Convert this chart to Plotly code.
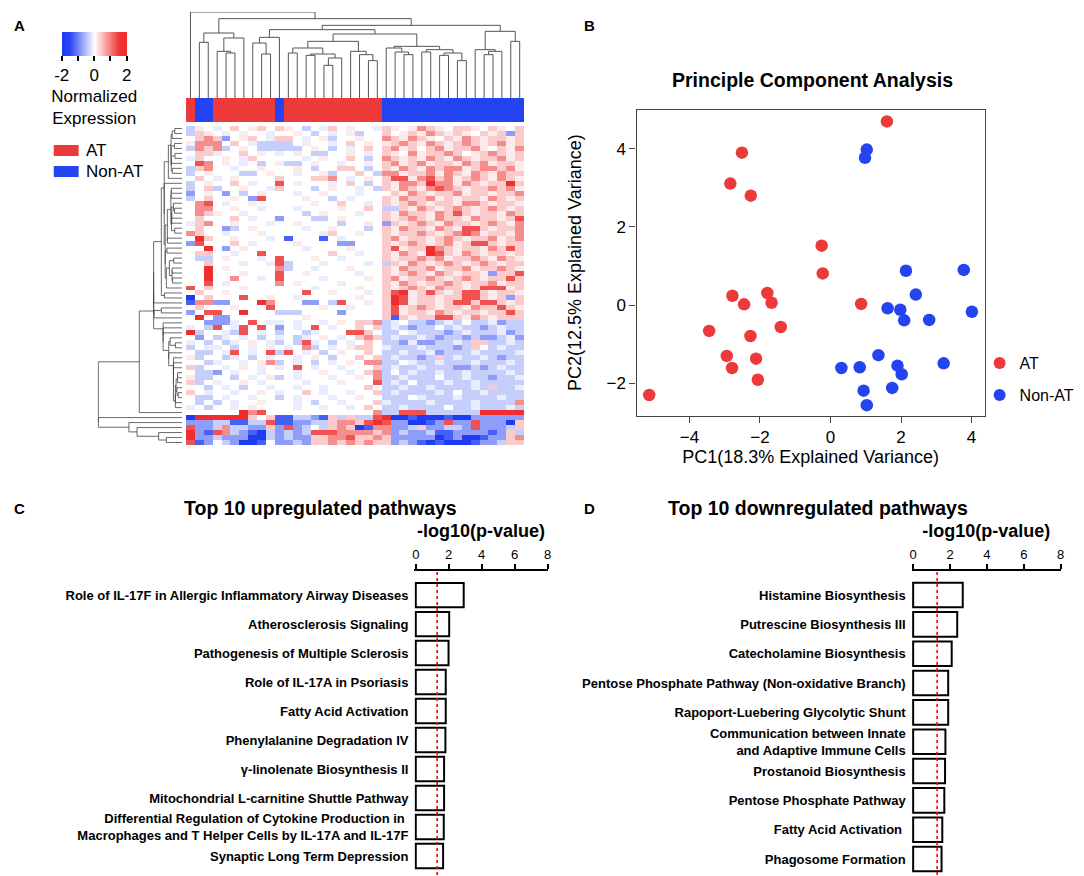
import numpy as np
import plotly.graph_objects as go

W, H = 1084, 876
FONT = 'Liberation Sans, Arial, sans-serif'
RED = '#ec3a3a'
BLUE = '#2444f2'


def px(x):
    return x / W


def py(y):
    return 1 - y / H


# ---------------- panel A: heatmap (rows = genes, cols = samples) ----------------
# one letter per cell; groups of columns split by spaces
HEAT_ROWS = [
    "D fE dEFEfFE F fEDEdFEfEEd FfEfGFfEFFfEFfEF",
    "D Ff EdEfEEd E EfEDEdEfDEE FEfFfGFfFfEFfFCF",
    "E FG FCEfFEd F FEdEfDEEfEE GFfGFfEFfGFfFFfF",
    "f GG GEFEdDD D DEfEEdEFEfE fFGFfGFfFGFfFGfF",
    "D GF GDEfEDD D DDEfEDEdEFE FGfFEFGfFFGfEFfG",
    "E FF dEEFEfE d EfEDDEEfEdE FfEGfFFGFEfFGFfF",
    "d FE EfEdFEE E EEdEfEEFEDE GFfFfGFfGFfFFGfF",
    "E HG EfEdEDE f DDEfEEdEEfE FGfFGfFFfGFGfFFf",
    "D FG EEdEEfE E EfEDEEFFEDE FfGFfGFGGfFGGFGf",
    "D Ef EEEDDEf E EdEEfDEEFED GGfFFGfGFfGFfGFF",
    "E FE dEfEEEE F EEEFFGEdEfE FHHfGHFGfFGFfGFf",
    "D Ef EEFEdEE H EfEEEdEFEDE FfGGFIGGfGFfFFIF",
    "D EF DEEfEEd F EEEDEfEEdED FfGFfGHGFfFFGFGf",
    "C Ef ECEDEfE E EdEEfEEEdEE EFfGFfFFGfFFfFFG",
    "D EF EEfECHE E EEfEEDEdEEE FfGFFGfFfFFfGFfF",
    "E GH EdEEfEE E EEEfEEFEEdE FfFGFfFFfGGFfFFf",
    "E GG EEfEEdE E EdEEEEfEEFE DDFfGFfFGFfFGFfF",
    "E GF fEEdEEE E EEDEfEEEdEE FfGFFfGFHFfFFfGF",
    "E FE EEFEdEE C EEEDDEfEEEE FfFGFfGFFfGFFfFH",
    "d FG EEfEEEd E EfEEEEDEEfE CFfFGFfGFFfFGFfG",
    "E FE ECDEfEE E EEdEEfEEEDE FfGFFfGFfHHFfFFG",
    "G FE EdEEEfE E EEEEdFEEfEE FfFFGFfFGHGfFFfG",
    "E IF EEfEEEd E BEEEBEdEEEE FGfFFfFGFfFFGfFG",
    "C HE EEFEdEE E EfEEEECCEEE FfFGFfFGfFHHFfFF",
    "E EI ECEfEEE E EEdEEEEfEEE FHfFFIGFfFFfGFHF",
    "E FF EEdEEHE E EEEEEFEEdEE FfGFfIHFfGFfFFfF",
    "E DD EfEEEdE H EEEfEEdEEEE FfFFGFGfFFGFfGFf",
    "E EF EEEdEEf H DEEEfEEEEdE DFfGFfFGFfFGFfFF",
    "E EI EfEEEEE G DEEdEEEfEEE FfGFFGfFFGfFFGFf",
    "E EI EEEfEEE H EEfEEEEEdEE FfFGFfGFfFFfCFFH",
    "E EI EEGEEdE H EEEEdEEEEfE FGfFFGFfFGFfFFHF",
    "E EH EdEEEEE G EfEEEEdEEEE FfGFfFFGFfFFGfFF",
    "H EF EEEfEEE E EEEdEEEEfEE FfFGFfGFFfFHHHfF",
    "E FE EfEEEEE E EEHEEfEEEdE FHIfFHFfFHHFfFFf",
    "A EF EEEHEEf E EdEEEEEEfEE FIHfFFfFFHHFfFCF",
    "B GG CCEEEIG E EECCEDHEEfE FIHfFFfFHHFHHFfF",
    "E FE EEfEEEH E EEEEfEEdEEE FHfFGFfFFfGFFHFf",
    "C EH HEEIEEE D DDEEEECEEEE FHfFFfGFfFFfFFHF",
    "E IE CCEEEEE E EEfEEEEEEEE FBFfFFHHFfGFfFFF",
    "E EC CCdEHEd d EdEEdEfEFFG DdEDDCDdDEDDdCDD",
    "d ED HEdHEHE C EdEHEdEEFEF DdDCDDEDdDDCDdDD",
    "I DE EdDHEdE D EEDdEEEHHFE DDEdDDDCDdDDDdCD",
    "E CE DdEdEDE d EDdEfEdEFGF DdDDdDCDDCDCCDdC",
    "d ED EDdEfEd D EDHdEDEdEFE DDCdCCDDdDFFDDdD",
    "D Ed dEDEdEf E dEGDEdEfFFE dDDDdDDDCDFEDdDD",
    "E DD EdHEdEH D HEdEDEfEEFE DDdDDdCDDDdDDDDd",
    "f DE EDdEDEd E EdEfEDEEFEF DdDDCDFDdDDdDCDD",
    "E ED dEEdEfG D EdEDEdEfEGG DDEdDDdDDDdDDDdD",
    "F DE EdEfEdE d EHEdEEdEEEF DdDDdDDDCCDCDdDD",
    "E DD CEdEEdE E EdEEfEEdEFG DEDdDDdDDdDDDDdD",
    "f DD EEDEdEf D EdEEEdEEfEG DDdDDDEDDdDDCDDd",
    "F DE dEEfEdE E EEdEEEfEEEH DdDEDDDdDDdDDDDD",
    "E ED EdEDEEd E EdEEdEEEEFE DDdDDdDDDDdDFDDd",
    "F Ed EEdEEfE d EEFEdEEdEEF DdDDDDdDEDDdDDDD",
    "E DD EdEEdEE D EdEEEdEEfEE DDDEdDDDdDDDDdDD",
    "E DE DEdEEfE E EdEDEEdEEEF dDDDDdDDDDdDDDDG",
    "d ED EEdEfEE E EdEEfEEdEFE DDdDDDDEDDdDDDdD",
    "E EE EEEIGHE E EEEEEEEEEEG DDHHHDDDDDDIIIII",
    "A II IIIIFEF B BDDCBFDFDDH IAABAAABAACCCCCC",
    "C CC DDBBDDH B BCCDDFGGFHI HCCAABCHCCHCCCAF",
    "H CC DGDDCCF C HCDEDFGFABG GCCDFCCDDCHCCCDF",
    "I CB HGDCBAD C DCDHHHGGGGF GCDCCDBBCCCCBCFD",
    "I CC DCCCAAD C DCCFFGGHFFG FCCCCCABCAABCCFG",
    "H BC EDCAABE C CDCFFGFGFGF FCDCBABAAABCCDFF",
]
# normalized expression for each letter code
LEVEL_CODES = ['A', 'B', 'C', 'D', 'd', 'E', 'f', 'F', 'G', 'H', 'I']
LEVEL_VALUES = [-2.0, -1.3, -0.8, -0.4, -0.15, 0.0, 0.15, 0.4, 0.85, 1.3, 2.0]

# sample groups along the columns, in dendrogram order
GROUP_RUNS = [('AT', 1), ('Non-AT', 2), ('AT', 7), ('Non-AT', 1), ('AT', 11), ('Non-AT', 16)]

# column dendrogram: [left, right, merge height]
COL_TREE = [0, [
    [[1, 2, 167], [[3, [4, 5, 135], 140], 6, 180], 195],
    [
        [[[7, [8, 9, 132], 165], 10, 182],
         [[[[11, 12, 135], [[13, 14, 128], [[15, 16, 98], 17, 120], 132], 150],
           [18, [19, [20, 21, 112], 130], 140], 170],
          [[22, [23, [24, 25, 130], 138], 150],
           [[26, 27, 138], [[28, 29, 128], [30, 31, 112], 135], 145], 155], 192], 205],
        [[32, [[33, 34, 130], 35, 140], 145], [36, 37, 170], 200],
        218],
    238], 258]

# ---------------- panel B: PCA ----------------
AT_PC1 = [1.60, -2.51, -2.84, -2.26, -0.25, -0.22, 0.87, -2.78, -2.45, -1.79,
          -1.67, -1.41, -3.44, -2.27, -2.94, -2.79, -2.11, -2.06, -5.14]
AT_PC2 = [4.70, 3.90, 3.11, 2.80, 1.52, 0.81, 0.03, 0.24, 0.02, 0.31,
          0.06, -0.56, -0.66, -0.79, -1.30, -1.61, -1.37, -1.91, -2.30]
NON_PC1 = [1.03, 0.98, 2.14, 3.78, 2.42, 1.62, 1.98, 2.09, 2.80, 4.01,
           1.36, 0.31, 0.83, 1.90, 2.02, 3.21, 0.94, 1.75, 1.03]
NON_PC2 = [3.98, 3.77, 0.88, 0.90, 0.27, -0.08, -0.12, -0.39, -0.38, -0.17,
           -1.28, -1.61, -1.59, -1.55, -1.77, -1.49, -2.19, -2.12, -2.56]

# ---------------- panels C / D: pathways ----------------
UP_PATHWAYS = [
    'Role of IL-17F in Allergic Inflammatory Airway Diseases',
    'Atherosclerosis Signaling',
    'Pathogenesis of Multiple Sclerosis',
    'Role of IL-17A in Psoriasis',
    'Fatty Acid Activation',
    'Phenylalanine Degradation IV',
    'γ-linolenate Biosynthesis II',
    'Mitochondrial L-carnitine Shuttle Pathway',
    'Differential Regulation of Cytokine Production in <br>Macrophages and T Helper Cells by IL-17A and IL-17F',
    'Synaptic Long Term Depression',
]
UP_LOGP = [2.91, 2.03, 1.99, 1.82, 1.82, 1.80, 1.72, 1.72, 1.70, 1.66]

DOWN_PATHWAYS = [
    'Histamine Biosynthesis',
    'Putrescine Biosynthesis III',
    'Catecholamine Biosynthesis',
    'Pentose Phosphate Pathway (Non-oxidative Branch)',
    'Rapoport-Luebering Glycolytic Shunt',
    'Communication between Innate<br>and Adaptive Immune Cells',
    'Prostanoid Biosynthesis',
    'Pentose Phosphate Pathway',
    'Fatty Acid Activation ',
    'Phagosome Formation',
]
DOWN_LOGP = [2.69, 2.39, 2.09, 1.90, 1.90, 1.75, 1.73, 1.69, 1.58, 1.54]

P_CUTOFF = 1.3  # -log10(0.05)

# ---------------------------------------------------------------------------
heat = []
for i, r in enumerate(HEAT_ROWS):
    cells = ''.join(r.split())
    if len(cells) != 38:
        raise ValueError(f'row {i} has {len(cells)} cells')
    heat.append([LEVEL_VALUES[LEVEL_CODES.index(c)] for c in cells])
heat = np.array(heat)
n_rows, n_cols = heat.shape
groups = [g for g, n in GROUP_RUNS for _ in range(n)]
group_code = [0 if g == 'AT' else 1 for g in groups]


def neighbour_tree(mat):
    # agglomerate adjacent rows only so the tree keeps the drawn row order
    clusters = [([i], i, 0.0) for i in range(len(mat))]
    while len(clusters) > 1:
        d = []
        for k in range(len(clusters) - 1):
            a = mat[clusters[k][0]]
            b = mat[clusters[k + 1][0]]
            d.append(((a[:, None, :] - b[None, :, :]) ** 2).sum(axis=2).mean() ** 0.75)
        k = int(np.argmin(d))
        (ma, na, ha), (mb, nb, hb) = clusters[k], clusters[k + 1]
        h = max(d[k], ha, hb)
        clusters[k:k + 2] = [(ma + mb, [na, nb, h], h)]
    return clusters[0][1], clusters[0][2]


def tree_lines(node, pos, hgt):
    if isinstance(node, int):
        return float(node), 0.0
    pa, ha = tree_lines(node[0], pos, hgt)
    pb, hb = tree_lines(node[1], pos, hgt)
    h = node[2]
    pos += [pa, pa, pb, pb, None]
    hgt += [ha, h, h, hb, None]
    return (pa + pb) / 2, h


row_tree, row_hmax = neighbour_tree(heat)

HEAT_SCALE = [[0, '#1f3cf4'], [0.12, '#2744f4'], [0.5, '#ffffff'],
              [0.88, '#ee3434'], [1, '#ee2e2e']]

fig = go.Figure()

fig.add_trace(go.Heatmap(
    z=heat, x=list(range(n_cols)), y=list(range(n_rows)), zmin=-2, zmax=2,
    colorscale=HEAT_SCALE, xaxis='x', yaxis='y', hoverinfo='skip',
    colorbar=dict(
        orientation='h', x=px(52), xanchor='left', y=py(24), yanchor='top',
        xpad=0, ypad=0, len=65, lenmode='pixels', thickness=24, outlinewidth=0,
        tickvals=[-2, -1, 0, 1, 2], ticktext=['-2', '', '0', '', '2'],
        ticks='outside', ticklen=5, tickcolor='black', tickwidth=1.5,
        tickfont=dict(size=17, color='black'),
        title=dict(text='Normalized<br>Expression', side='bottom', font=dict(size=17, color='black')),
    ),
))

fig.add_trace(go.Heatmap(
    z=[group_code], x=list(range(n_cols)), y=[0], zmin=0, zmax=1,
    colorscale=[[0, RED], [0.5, RED], [0.5, BLUE], [1, BLUE]],
    showscale=False, xaxis='x', yaxis='y4', hoverinfo='skip',
))

cx, cy = [], []
tree_lines(COL_TREE, cx, cy)
fig.add_trace(go.Scatter(x=cx, y=cy, xaxis='x', yaxis='y3', mode='lines',
                         line=dict(color='#555555', width=1), hoverinfo='skip', showlegend=False))

ry, rx = [], []
tree_lines(row_tree, ry, rx)
fig.add_trace(go.Scatter(x=rx, y=ry, xaxis='x3', yaxis='y', mode='lines',
                         line=dict(color='#444444', width=0.8), hoverinfo='skip', showlegend=False))

# PCA scatter
fig.add_trace(go.Scatter(x=AT_PC1, y=AT_PC2, mode='markers', name='AT', xaxis='x2', yaxis='y2',
                         marker=dict(color=RED, size=12.5), legend='legend'))
fig.add_trace(go.Scatter(x=NON_PC1, y=NON_PC2, mode='markers', name='Non-AT', xaxis='x2', yaxis='y2',
                         marker=dict(color=BLUE, size=12.5), legend='legend2'))

# pathway bars
bar_style = dict(color='white', line=dict(color='black', width=2))
fig.add_trace(go.Bar(x=UP_LOGP, y=UP_PATHWAYS, orientation='h', xaxis='x5', yaxis='y5',
                     marker=bar_style, width=0.84, showlegend=False, hoverinfo='skip'))
fig.add_trace(go.Bar(x=DOWN_LOGP, y=DOWN_PATHWAYS, orientation='h', xaxis='x6', yaxis='y6',
                     marker=bar_style, width=0.84, showlegend=False, hoverinfo='skip'))

hidden = dict(visible=False, showgrid=False, zeroline=False)
pca_axis = dict(showline=True, mirror=True, linecolor='#444444', linewidth=1.2, ticks='outside',
                ticklen=6, tickcolor='#444444', showgrid=False, zeroline=False,
                tickfont=dict(size=17, color='black'))
path_x = dict(side='top', range=[-0.08, 8], tickvals=[0, 2, 4, 6, 8], ticks='outside', ticklen=5,
              tickwidth=2, tickcolor='black', showline=True, linecolor='black', linewidth=2,
              showgrid=False, zeroline=False, tickfont=dict(size=13, color='black'),
              title=dict(text='-log10(p-value)', standoff=4,
                         font=dict(size=18, color='black', weight='bold')))
path_y = dict(type='category', showline=False, ticks='', showgrid=False, ticklabelstandoff=5,
              tickfont=dict(size=13, color='black', weight='bold'))
legend_style = dict(xanchor='left', yanchor='middle', bgcolor='rgba(0,0,0,0)',
                    font=dict(size=16, color='black'), itemsizing='constant')

fig.update_layout(
    width=W, height=H, margin=dict(l=0, r=0, t=0, b=0),
    paper_bgcolor='white', plot_bgcolor='white',
    font=dict(family=FONT, color='black'),
    xaxis=dict(domain=[px(177), px(517)], range=[-0.5, n_cols - 0.5], anchor='y', **hidden),
    yaxis=dict(domain=[py(437), py(118)], range=[n_rows - 0.5, -0.5], anchor='x', **hidden),
    yaxis4=dict(domain=[py(114), py(90)], range=[-0.5, 0.5], anchor='x', **hidden),
    yaxis3=dict(domain=[py(90), py(4)], range=[0, 258], anchor='x', **hidden),
    xaxis3=dict(domain=[px(88), px(173)], range=[row_hmax * 1.01, 0], anchor='y', **hidden),
    xaxis2=dict(domain=[px(630), px(980)], range=[-5.5, 4.37], anchor='y2',
                tickvals=[-4, -2, 0, 2, 4],
                title=dict(text='PC1(18.3% Explained Variance)', standoff=2,
                           font=dict(size=18, color='black')), **pca_axis),
    yaxis2=dict(domain=[py(407.7), py(101.7)], range=[-2.83, 5.0], anchor='x2',
                tickvals=[-2, 0, 2, 4],
                title=dict(text='PC2(12.5% Explained Variance)', standoff=20,
                           font=dict(size=18, color='black')), **pca_axis),
    xaxis5=dict(domain=[px(406.7), px(540.5)], anchor='y5', **path_x),
    yaxis5=dict(domain=[py(862.5), py(563)], range=[9.5, -0.83], anchor='x5', **path_y),
    xaxis6=dict(domain=[px(906.7), px(1056.5)], anchor='y6', **path_x),
    yaxis6=dict(domain=[py(865.7), py(563)], range=[9.5, -0.82], anchor='x6', **path_y),
    legend=dict(x=px(975), y=py(355), **legend_style),
    legend2=dict(x=px(975), y=py(387), **legend_style),
)

# significance cut-off lines
for xa in ('x5', 'x6'):
    fig.add_shape(type='line', xref=xa, yref='paper', x0=P_CUTOFF, x1=P_CUTOFF,
                  y0=py(564), y1=py(869), line=dict(color='red', width=1.6, dash='dot'))

# sample-group key of panel A
for label, color, y0 in (('AT', RED, 137), ('Non-AT', BLUE, 158)):
    fig.add_shape(type='rect', xref='paper', yref='paper', x0=px(44), x1=px(69),
                  y0=py(y0 + 11), y1=py(y0), fillcolor=color, line_width=0)
    fig.add_annotation(x=px(74), y=py(y0 + 5.5), xref='paper', yref='paper', text=label,
                       showarrow=False, xanchor='left', yanchor='middle',
                       font=dict(size=17, color='black'))

texts = [
    ('A', 10, 18, 15), ('B', 583, 18, 15), ('C', 10, 500, 15), ('D', 583, 500, 15),
    ('Principle Component Analysis', 806.5, 72, 19.5),
    ('Top 10 upregulated pathways', 312.5, 500, 19.5),
    ('Top 10 downregulated pathways', 812, 500, 19.5),
]
for t, x, y, s in texts:
    fig.add_annotation(x=px(x), y=py(y), xref='paper', yref='paper', text=t, showarrow=False,
                       xanchor='center', yanchor='middle',
                       font=dict(size=s, color='black', weight='bold'))

fig.write_html('out.html')
